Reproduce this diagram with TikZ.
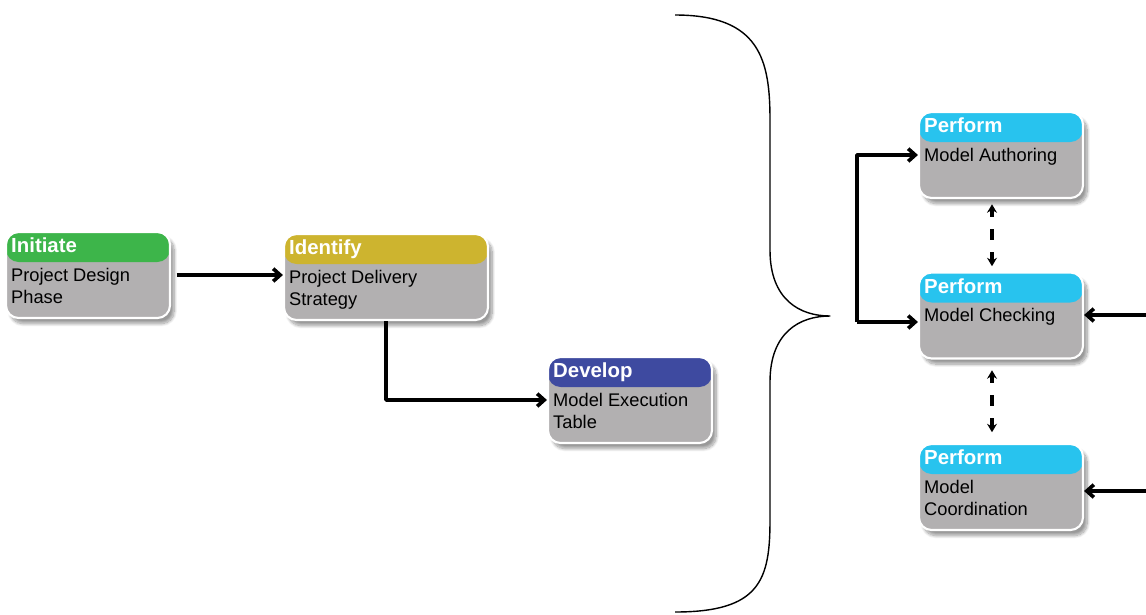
\documentclass[tikz,border=0pt]{standalone}
\usepackage{fontspec}
\setmainfont{Liberation Sans}
\usetikzlibrary{arrows.meta,calc,shadows.blur}
\definecolor{startgreen}{RGB}{61,181,74}
\definecolor{ochre}{RGB}{205,180,47}
\definecolor{deepblue}{RGB}{62,74,160}
\definecolor{skycyan}{RGB}{40,195,238}
\definecolor{boxgray}{RGB}{178,176,177}

\tikzset{
  stage/.style={rectangle,rounded corners=9pt,minimum width=4.1cm,minimum height=2.15cm,
    fill=boxgray,draw=white,line width=1.5pt,
    blur shadow={shadow xshift=3pt,shadow yshift=-4pt,shadow opacity=40,shadow blur steps=12},
    path picture={\fill[#1] (path picture bounding box.north west) rectangle ([yshift=-0.75cm]path picture bounding box.north east);}},
  head/.style={font=\bfseries\fontsize{14.5}{16}\selectfont,text=white,anchor=base west,inner sep=0pt},
  body/.style={font=\fontsize{13}{15.6}\selectfont,align=left,anchor=north west,inner sep=0pt},
  arr/.style={-{Straight Barb[length=5pt,width=9pt]},line width=2.6pt},
  link/.style={{Stealth[length=6pt,width=7pt]}-{Stealth[length=6pt,width=7pt]},line width=2.6pt,
    dash pattern=on 5.5pt off 8.5pt on 8pt off 8.5pt on 12pt}
}

\begin{document}
\begin{tikzpicture}[x=0.025cm,y=-0.025cm,line join=round]
\useasboundingbox (0,0) rectangle (1146,614);

\node[stage=startgreen] (init) at (88,275) {};
\node[head] (init-t) at ($(init.north west)+(6,22)$) {Initiate};
\node[body] (init-b) at ($(init.north west)+(6,37)$) {Project Design\\Phase};

\node[stage=ochre,minimum width=5.1cm] (ident) at (386,277) {};
\node[head] (ident-t) at ($(ident.north west)+(6,22)$) {Identify};
\node[body] (ident-b) at ($(ident.north west)+(6,37)$) {Project Delivery\\Strategy};

\node[stage=deepblue] (devel) at (630,400) {};
\node[head] (devel-t) at ($(devel.north west)+(6,22)$) {Develop};
\node[body] (devel-b) at ($(devel.north west)+(6,37)$) {Model Execution\\Table};

\node[stage=skycyan] (authr) at (1001,155) {};
\node[head] (authr-t) at ($(authr.north west)+(6,22)$) {Perform};
\node[body] (authr-b) at ($(authr.north west)+(6,37)$) {Model Authoring};

\node[stage=skycyan] (check) at (1001,315.5) {};
\node[head] (check-t) at ($(check.north west)+(6,22)$) {Perform};
\node[body] (check-b) at ($(check.north west)+(6,37)$) {Model Checking};

\node[stage=skycyan] (coord) at (1001,487) {};
\node[head] (coord-t) at ($(coord.north west)+(6,22)$) {Perform};
\node[body] (coord-b) at ($(coord.north west)+(6,37)$) {Model\\Coordination};

\draw[arr,shorten <=4pt] (init.east) -- (init.east -| ident.west);
\draw[arr] (ident.south) |- (devel.west);

\draw[line width=1pt] (675,15) .. controls (760,15) and (770,60) .. (770,120) -- (770,250)
  .. controls (770,300) and (800,316) .. (830,316)
  .. controls (800,316) and (770,332) .. (770,382) -- (770,520)
  .. controls (770,580) and (760,612) .. (675,612);

\coordinate (fork) at (857,322);
\draw[arr] (fork) |- (authr.west);
\draw[arr] (fork) -- (fork -| check.west);

\coordinate (gapAB) at ($(authr.south)!.5!(check.north)$);
\coordinate (gapBC) at ($(check.south)!.5!(coord.north)$);
\draw[link] ($(gapAB)+(-9,-31)$) -- ($(gapAB)+(-9,31)$);
\draw[link] ($(gapBC)+(-9,-31)$) -- ($(gapBC)+(-9,31)$);

\coordinate (inB) at (1146,315);
\coordinate (inC) at (1146,491);
\draw[arr] (inB) -- (inB -| check.east);
\draw[arr] (inC) -- (inC -| coord.east);
\end{tikzpicture}
\end{document}
